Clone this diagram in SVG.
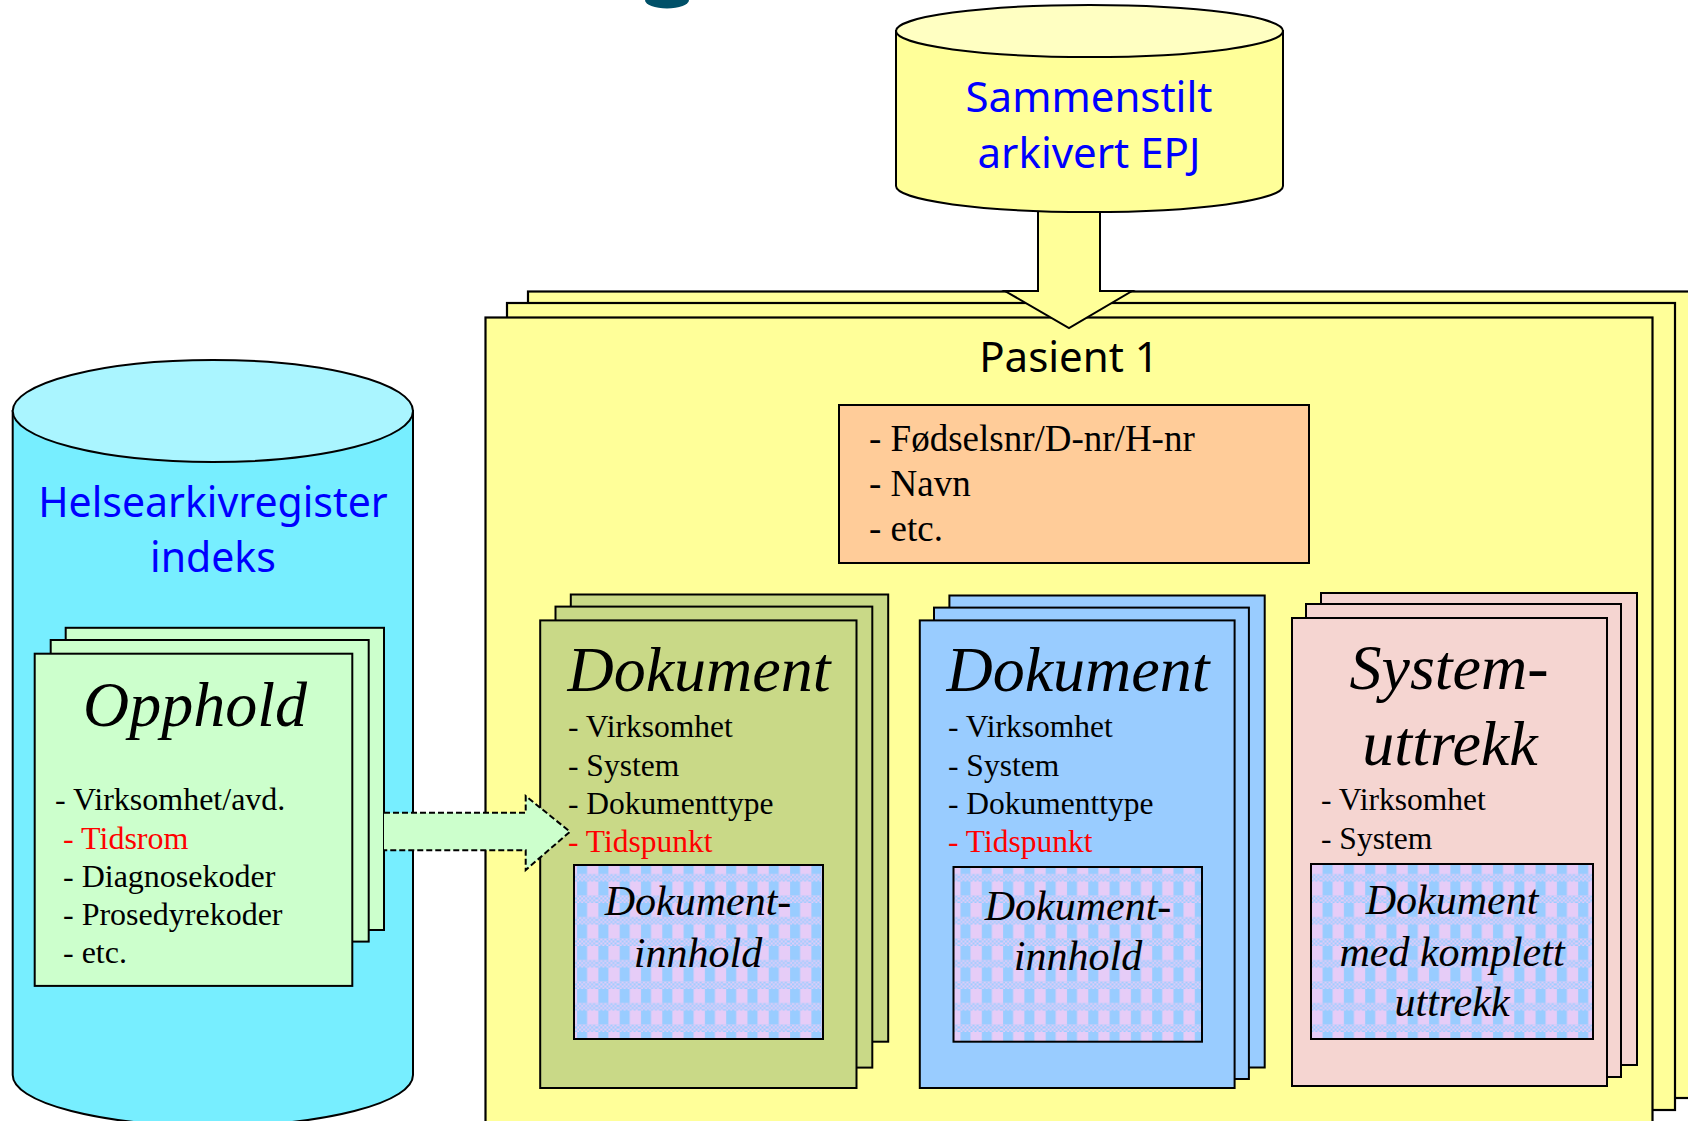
<svg xmlns="http://www.w3.org/2000/svg" width="1688" height="1121" viewBox="0 0 1688 1121">
  <defs>
    <!-- fine checker used inside the weave bands -->
    <pattern id="checks" width="4" height="4" patternUnits="userSpaceOnUse">
      <rect width="4" height="4" fill="#E6CCF7"/>
      <rect x="0" y="0" width="2" height="2" fill="#99CCFF"/>
      <rect x="2" y="2" width="2" height="2" fill="#99CCFF"/>
    </pattern>
    <!-- woven fill of the document-content boxes -->
    <pattern id="weave" width="21.3" height="21.5" patternUnits="userSpaceOnUse">
      <rect width="21.3" height="21.5" fill="#E6CCF7"/>
      <rect x="0" y="14" width="21.3" height="7.5" fill="url(#checks)"/>
      <rect x="2" y="0" width="10" height="14" fill="#99CCFF"/>
    </pattern>
    <style>
      .ln { stroke: #000; stroke-width: 2; }
      .frame { fill: #FFFF99; stroke: #000; stroke-width: 2.2; }
      .green { fill: #C9D987; stroke: #000; stroke-width: 2; }
      .blue { fill: #99CCFF; stroke: #000; stroke-width: 2; }
      .pink { fill: #F5D5D1; stroke: #000; stroke-width: 2; }
      .stay { fill: #CCFFCC; stroke: #000; stroke-width: 2; }
      .weave { fill: url(#weave); stroke: #000; stroke-width: 2; }
      .sans { font-family: "Noto Sans", "Open Sans", "DejaVu Sans", sans-serif; }
      .serif { font-family: "Liberation Serif", "Times New Roman", serif; fill: #000; }
      .title { font-family: "Liberation Serif", "Times New Roman", serif; font-style: italic; font-size: 64px; text-anchor: middle; fill: #000; }
      .inner { font-family: "Liberation Serif", "Times New Roman", serif; font-style: italic; font-size: 42px; text-anchor: middle; fill: #000; }
      .item { font-family: "Liberation Serif", "Times New Roman", serif; font-size: 31.5px; fill: #000; }
      .big { font-size: 32px; }
      .red { fill: #FF0000; }
      .head { font-family: "Noto Sans", "Open Sans", "DejaVu Sans", sans-serif; fill: #0000FF; text-anchor: middle; }
    </style>
  </defs>

  <rect width="1688" height="1121" fill="#FFFFFF"/>

  <!-- lower edge of a heading glyph that runs off the top -->
  <path d="M645,0 A22,8.5 0 0 0 689,0 Z" fill="#005068"/>

  <!-- patient record frames (three stacked sheets) -->
  <g id="pasient">
    <rect class="frame" x="528" y="291.5" width="1180" height="806.5"/>
    <rect class="frame" x="507" y="303" width="1168" height="807"/>
    <rect class="frame" x="485.5" y="317.5" width="1167" height="830"/>
    <text class="sans" x="1069" y="372" font-size="42" text-anchor="middle" fill="#000">Pasient 1</text>
  </g>

  <!-- patient identity fields -->
  <g id="identitet">
    <rect x="839" y="405" width="470" height="158" fill="#FFCC99" class="ln"/>
    <text class="serif" font-size="37" x="869" y="451">- Fødselsnr/D-nr/H-nr</text>
    <text class="serif" font-size="37" x="869" y="496">- Navn</text>
    <text class="serif" font-size="37" x="869" y="541">- etc.</text>
  </g>

  <!-- document stack, green -->
  <g id="dokument-1">
    <rect class="green" x="570.8" y="594.5" width="317.4" height="447.2"/>
    <rect class="green" x="555.5" y="606.6" width="316.8" height="461"/>
    <rect class="green" x="540.2" y="620.4" width="316.3" height="467.6"/>
    <text class="title" x="699" y="691">Dokument</text>
    <text class="item" x="568" y="737">- Virksomhet</text>
    <text class="item" x="568" y="776">- System</text>
    <text class="item" x="568" y="814">- Dokumenttype</text>
    <text class="item red" x="568" y="852">- Tidspunkt</text>
    <rect class="weave" x="574" y="865" width="249" height="174"/>
    <text class="inner" x="698" y="915">Dokument-</text>
    <text class="inner" x="698" y="967">innhold</text>
  </g>

  <!-- document stack, blue -->
  <g id="dokument-2">
    <rect class="blue" x="949.4" y="595.5" width="315.3" height="472"/>
    <rect class="blue" x="934" y="607.6" width="314.9" height="471.4"/>
    <rect class="blue" x="919.8" y="620.4" width="314.8" height="467.6"/>
    <text class="title" x="1078" y="691">Dokument</text>
    <text class="item" x="948" y="737">- Virksomhet</text>
    <text class="item" x="948" y="776">- System</text>
    <text class="item" x="948" y="814">- Dokumenttype</text>
    <text class="item red" x="948" y="852">- Tidspunkt</text>
    <rect class="weave" x="953.5" y="867" width="248.5" height="174.7"/>
    <text class="inner" x="1078" y="920">Dokument-</text>
    <text class="inner" x="1078" y="970">innhold</text>
  </g>

  <!-- system extract stack, pink -->
  <g id="systemuttrekk">
    <rect class="pink" x="1321" y="593" width="316" height="472"/>
    <rect class="pink" x="1306" y="604" width="315" height="473"/>
    <rect class="pink" x="1292" y="618" width="315" height="468"/>
    <text class="title" x="1449" y="689">System-</text>
    <text class="title" x="1450" y="765">uttrekk</text>
    <text class="item" x="1321" y="810">- Virksomhet</text>
    <text class="item" x="1321" y="849">- System</text>
    <rect class="weave" x="1311" y="864" width="282" height="175"/>
    <text class="inner" x="1452" y="914">Dokument</text>
    <text class="inner" x="1452" y="966">med komplett</text>
    <text class="inner" x="1452" y="1016">uttrekk</text>
  </g>

  <!-- health archive register index (cylinder) -->
  <g id="helsearkivregister">
    <path d="M12.7,411 V1075 A200.15,51 0 0 0 413,1075 V411 Z" fill="#77EEFF" class="ln"/>
    <ellipse cx="212.85" cy="411" rx="200.15" ry="51" fill="#AAF5FF" class="ln"/>
    <text class="head" x="213" y="517" font-size="41">Helsearkivregister</text>
    <text class="head" x="213" y="572" font-size="41">indeks</text>
  </g>

  <!-- stay records stack -->
  <g id="opphold">
    <rect class="stay" x="65.7" y="627.8" width="318.3" height="302.2"/>
    <rect class="stay" x="50.7" y="640" width="318" height="301.6"/>
    <rect class="stay" x="34.7" y="653.7" width="317.6" height="332.2"/>
    <text class="title" x="195" y="726">Opphold</text>
    <text class="item big" x="55" y="810">- Virksomhet/avd.</text>
    <text class="item big red" x="63" y="849">- Tidsrom</text>
    <text class="item big" x="63" y="887">- Diagnosekoder</text>
    <text class="item big" x="63" y="925">- Prosedyrekoder</text>
    <text class="item big" x="63" y="963">- etc.</text>
  </g>

  <!-- connectors -->
  <g id="connectors">
    <polygon points="1038,200 1038,291 1005,291 1069,328 1132,291 1100,291 1100,200" fill="#FFFF99" stroke="#000" stroke-width="2" stroke-linejoin="miter"/>
    <path d="M384,812.7 H525.7 V796 L570,831.7 L525.7,870 V850.3 H384" fill="#CCFFCC" stroke="#000" stroke-width="2" stroke-dasharray="6 3"/>
  </g>

  <!-- compiled archived EPJ (cylinder) -->
  <g id="sammenstilt-epj">
    <path d="M896,31 V186 A193.5,26 0 0 0 1283,186 V31 Z" fill="#FFFF99" class="ln"/>
    <ellipse cx="1089.5" cy="31" rx="193.5" ry="26" fill="#FFFFC2" class="ln"/>
    <text class="head" x="1089" y="112" font-size="42">Sammenstilt</text>
    <text class="head" x="1089" y="168" font-size="42">arkivert EPJ</text>
  </g>
</svg>
